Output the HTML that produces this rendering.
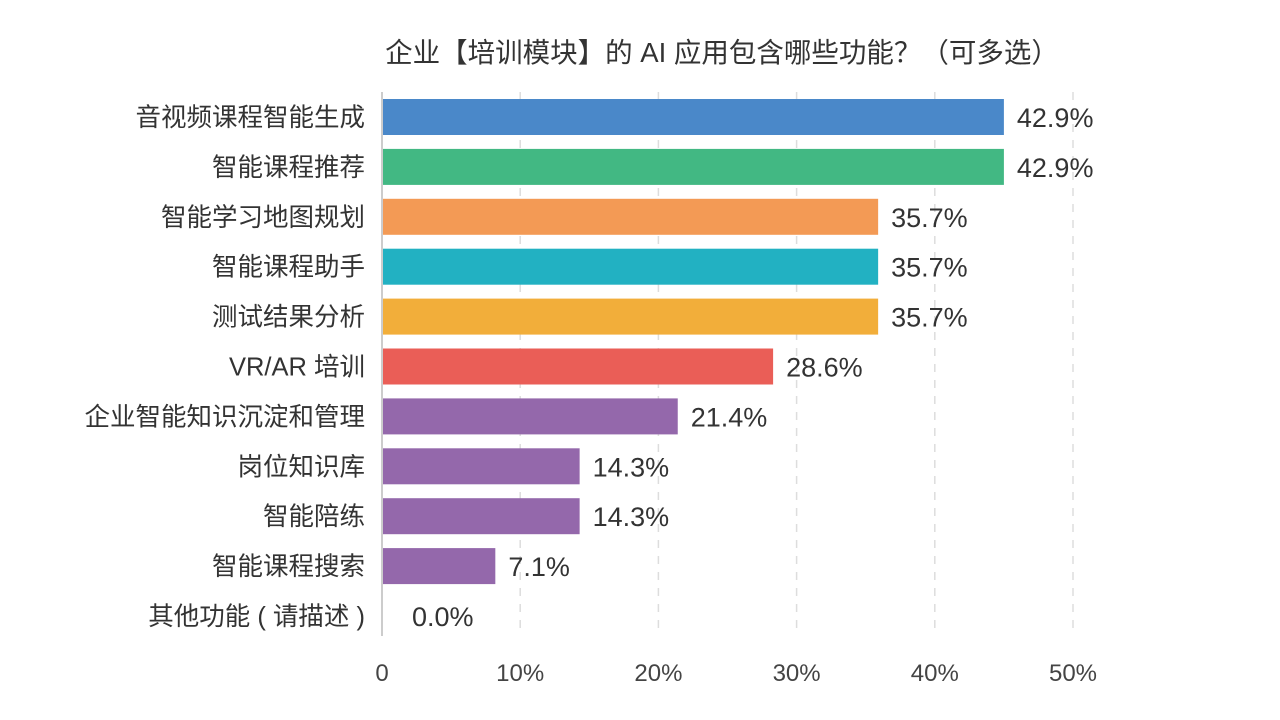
<!DOCTYPE html>
<html><head><meta charset="utf-8">
<style>
html,body{margin:0;padding:0;background:#fff;}
svg{display:block;font-family:"Liberation Sans","Noto Sans CJK SC",sans-serif;}
</style></head>
<body>
<svg id="chart" width="1280" height="720">
<text x="722" y="62" text-anchor="middle" font-size="27.5" fill="#333">企业【培训模块】的 AI 应用包含哪些功能？（可多选）</text>
</svg>
<script>
const categories=["音视频课程智能生成","智能课程推荐","智能学习地图规划","智能课程助手","测试结果分析","VR/AR 培训","企业智能知识沉淀和管理","岗位知识库","智能陪练","智能课程搜索","其他功能 ( 请描述 )"];
const values=[45,45,35.9,35.9,35.9,28.3,21.4,14.3,14.3,8.2,0];
const valueLabels=["42.9%","42.9%","35.7%","35.7%","35.7%","28.6%","21.4%","14.3%","14.3%","7.1%","0.0%"];
const colors=["#4a88c9","#42b883","#f39a55","#22b1c2","#f2ae3a","#ea5e57","#9468ab","#9468ab","#9468ab","#9468ab","#9468ab"];
const ticks=[0,10,20,30,40,50];
const tickLabels=["0","10%","20%","30%","40%","50%"];
const svg=document.getElementById('chart');
const NS="http://www.w3.org/2000/svg";
const x0=382,pxPer=13.82,y0=117,step=49.9,bh=36;
const xs=v=>x0+v*pxPer;
const ys=i=>y0+i*step;
function mk(t,a){const e=document.createElementNS(NS,t);for(const k in a)e.setAttribute(k,a[k]);svg.appendChild(e);return e;}
ticks.forEach((t,i)=>{
  if(t>0){const g=mk('line',{x1:xs(t),x2:xs(t),y1:92,y2:636,stroke:'#ddd','stroke-width':1.5,'stroke-dasharray':'8,8'});
  
  }
  const tl=mk('text',{x:xs(t),y:681,'text-anchor':'middle','font-size':24,fill:'#444'});
  tl.textContent=tickLabels[i];
  
  
});
categories.forEach((c,i)=>{
  const cy=ys(i);
  const r=mk('rect',{x:x0,y:cy-bh/2,width:Math.max(0,xs(values[i])-x0),height:bh,fill:colors[i]});
  
  
  const l=mk('text',{x:365,y:cy+9,'text-anchor':'end','font-size':25.5,fill:'#333'});
  l.textContent=c;
  
  
  const v=mk('text',{x:xs(values[i])+13+(values[i]===0?17:0),y:cy+10,'font-size':27,fill:'#333'});
  v.textContent=valueLabels[i];
  
  
});
const ax=mk('line',{x1:x0,x2:x0,y1:92,y2:636,stroke:'#ccc','stroke-width':2});


</script>
</body></html>
